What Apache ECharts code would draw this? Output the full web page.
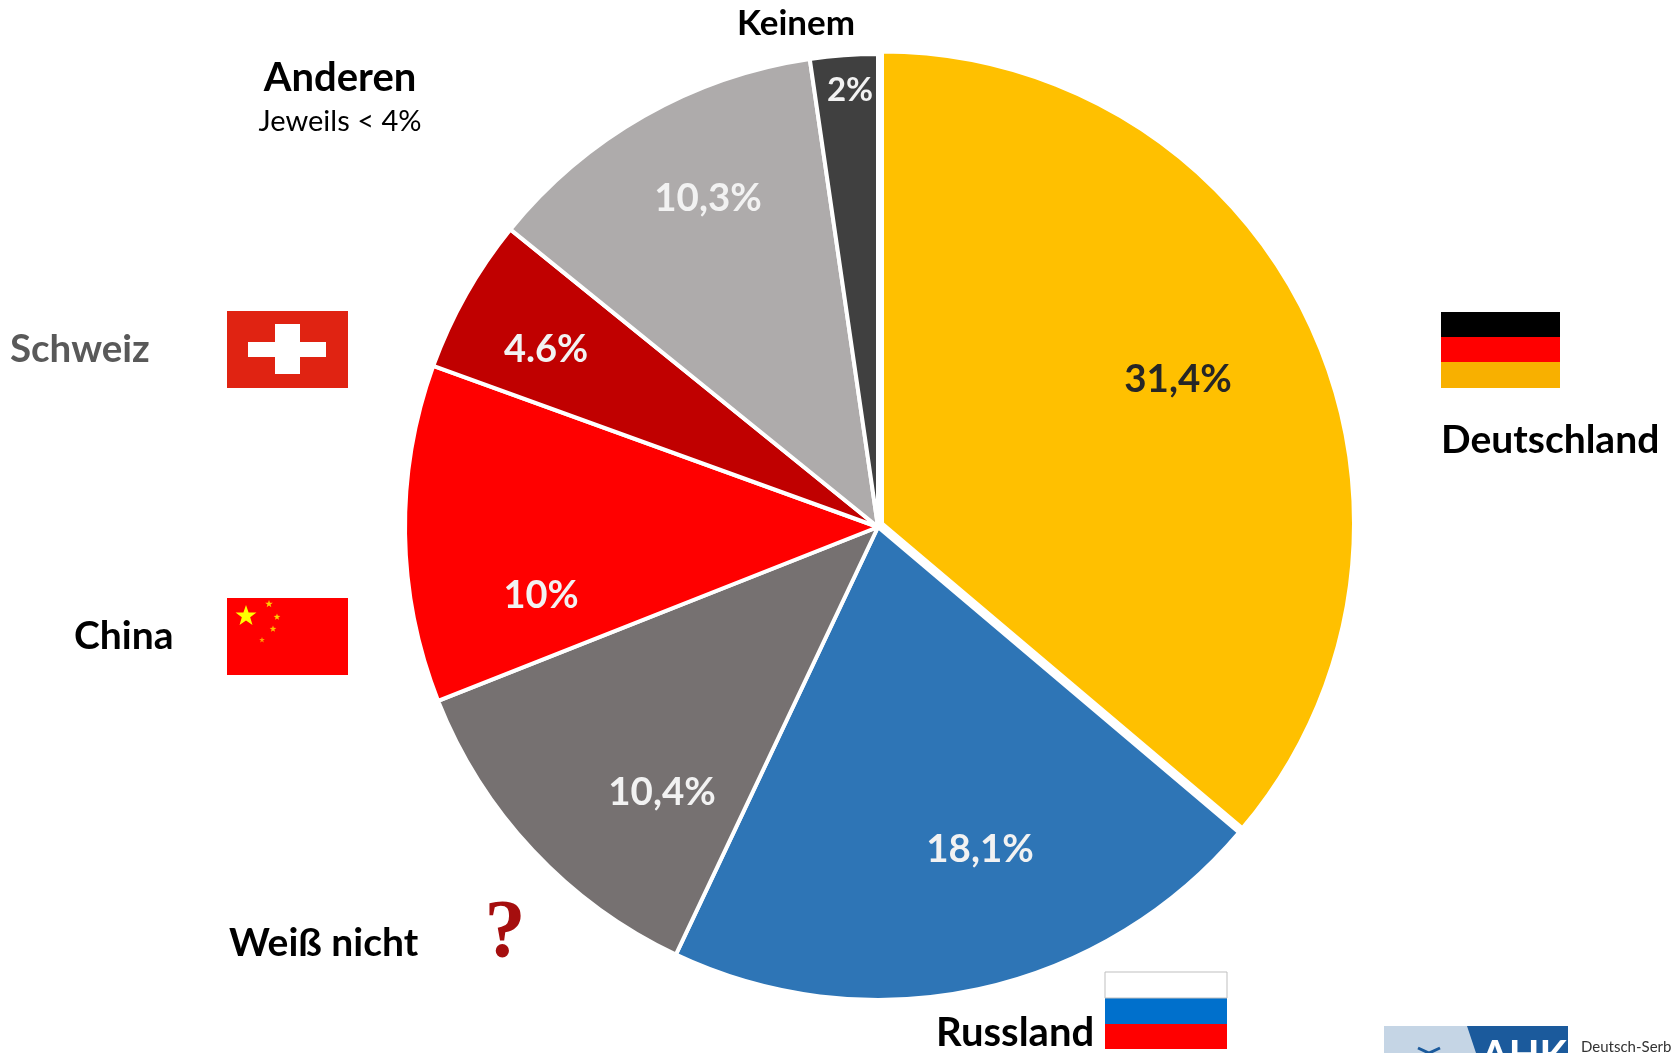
<!DOCTYPE html>
<html><head><meta charset="utf-8">
<style>html,body{margin:0;padding:0;background:#fff}#c{width:1675px;height:1053px}</style>
<script src="https://cdn.jsdelivr.net/npm/echarts@6/dist/echarts.min.js"></script>
</head><body><div id="c"></div>
<script>
const categories = ['Deutschland','Russland','Weiß nicht','China','Schweiz','Anderen','Keinem'];
const values = [31.4,18.1,10.4,10,4.6,10.3,2];
const valueLabels = ['31,4%','18,1%','10,4%','10%','4.6%','10,3%','2%'];
const sliceColors = ['#FFC000','#2E75B6','#767171','#FF0000','#C00000','#AEABAB','#404040'];
const labelColors = ['#262626','#F2F2F2','#F2F2F2','#F2F2F2','#F2F2F2','#F2F2F2','#F2F2F2'];
const labelAt = [[1178,380],[980,850],[662,793],[541,596],[546,350],[708,199],[850,90]];
const labelSizes = [38.5,38.5,38.5,38,38,38.5,33];
const FONT='Lato';
function t(text,x,y,size,color,align,weight,font){return {type:'text',x,y,z:10,style:{text,fontFamily:font||FONT,fontSize:size,fontWeight:weight||'bold',fill:color||'#000',align:align||'left',verticalAlign:'middle'}};}
function r(x,y,w,h,fill,z){return {type:'rect',z:z||5,shape:{x,y,width:w,height:h},style:{fill}};}
function star(cx,cy,R,fill){const pts=[];for(let i=0;i<10;i++){const a=-Math.PI/2+i*Math.PI/5,q=i%2?R*0.4:R;pts.push([cx+q*Math.cos(a),cy+q*Math.sin(a)]);}return {type:'polygon',z:6,shape:{points:pts},style:{fill}};}
const graphics=[
 t('Keinem',737,24,35),
 t('Anderen',340,78,40,'#000','center'),
 t('Jeweils < 4%',340,122,29,'#000','center','normal'),
 t('Schweiz',10,350,38.5,'#595959'),
 t('China',74,636,39),
 t('Weiß nicht',229,943,39),
 t('Russland',936,1033,40),
 t('Deutschland',1441,440,39),
 t('?',505,935,82,'#A50E0E','center','bold','Liberation Serif'),
 r(1441,312,119,25,'#000'),r(1441,337,119,25,'#FF0000'),r(1441,362,119,26,'#F8B000'),
 r(227,311,121,77,'#E02312'),r(275,324,25,50,'#fff',6),r(248,342,78,15,'#fff',6),
 r(227,598,121,77,'#FF0000'),star(246,616,11,'#FFFF00'),star(269,604,4,'#FFD000'),star(277,617,3.5,'#FFD000'),star(273,629,3.5,'#FFC000'),star(262,640,3,'#FFA000'),
 r(1105,972,122,26,'#fff'),r(1105,998,122,26,'#0070CC'),r(1105,1024,122,25,'#FF0000'),
 {type:'rect',z:6,shape:{x:1105,y:972,width:122,height:26},style:{fill:'none',stroke:'#BFBFBF',lineWidth:1}},
 r(1384,1026,184,27,'#C5D5E5'),
 {type:'polygon',z:6,shape:{points:[[1467,1026],[1568,1026],[1568,1053],[1476,1053]]},style:{fill:'#1B5A9C'}},
 t('AHK',1524,1056,40,'#fff','center'),
 t('Deutsch-Serb',1581,1047,15,'#333','left','normal'),
 {type:'polyline',z:6,shape:{points:[[1418,1048],[1429,1053]]},style:{stroke:'#1B5A9C',fill:'none',lineWidth:3}},
 {type:'polyline',z:6,shape:{points:[[1440,1048],[1429,1053]]},style:{stroke:'#1B5A9C',fill:'none',lineWidth:3}}
];
const rest = values.slice(1).reduce((a,b)=>a+b,0);
const chart=echarts.init(document.getElementById('c'),null,{renderer:'canvas'});
chart.setOption({animation:false,backgroundColor:'#fff',
 graphic:graphics,
 series:[
 {type:'pie',z:1,silent:true,center:[882,523.5],radius:[0,472],startAngle:90,clockwise:true,
  label:{show:false},labelLine:{show:false},
  data:[
   {name:categories[0],value:values[0],itemStyle:{color:sliceColors[0],borderColor:'#fff',borderWidth:4}},
   {name:'rest',value:rest,itemStyle:{color:'transparent',borderWidth:0}}
  ]},
 {type:'pie',z:2,center:[878,527],radius:[0,473],startAngle:90,clockwise:true,avoidLabelOverlap:false,
  emphasis:{disabled:true},
  labelLine:{show:false},
  label:{show:true,position:'inside',fontFamily:FONT,fontWeight:'bold'},
  labelLayout:p=>({x:labelAt[p.dataIndex][0],y:labelAt[p.dataIndex][1],align:'center',verticalAlign:'middle'}),
  data:categories.map((name,i)=>({name,value:values[i],
    itemStyle:i===0?{color:'transparent',borderWidth:0}:{color:sliceColors[i],borderColor:'#fff',borderWidth:4},
    label:{formatter:valueLabels[i],color:labelColors[i],fontSize:labelSizes[i]}}))
 }]});
</script></body></html>
